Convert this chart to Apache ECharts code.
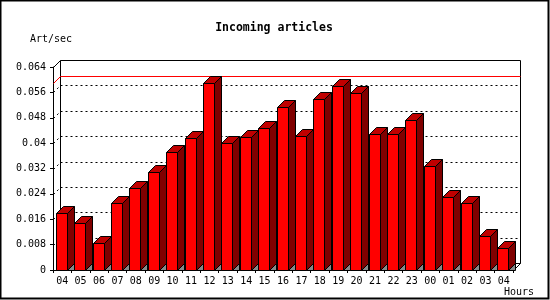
<!DOCTYPE html>
<html>
<head>
<meta charset="utf-8">
<script src="https://cdn.jsdelivr.net/npm/echarts@6/dist/echarts.min.js"></script>
<style>html,body{margin:0;padding:0;background:#fff}#c{width:550px;height:300px}</style>
</head>
<body>
<div id="c"></div>
<script>
var hours = ['04','05','06','07','08','09','10','11','12','13','14','15','16','17','18','19','20','21','22','23','00','01','02','03','04'];
var artPerSec = [0.0179,0.0147,0.0084,0.0210,0.0258,0.0310,0.0373,0.0415,0.0589,0.0399,0.0418,0.0447,0.0513,0.0421,0.0538,0.0579,0.0557,0.0428,0.0428,0.0472,0.0327,0.0229,0.0210,0.0108,0.0068];
var yTickValues = [0,0.008,0.016,0.024,0.032,0.04,0.048,0.056,0.064];
var titleText = 'Incoming articles';
var yUnit = 'Art/sec';
var xUnit = 'Hours';

var maxVal = Math.max.apply(null, artPerSec);
var D = 7;
var FONT = 'DejaVu Sans Mono';

var chart = echarts.init(document.getElementById('c'), null, {renderer:'canvas'});

var barData = artPerSec.map(function(v,i){return [i,v];});

chart.setOption({
  animation:false,
  backgroundColor:'#fff',
  grid:{left:53,right:37,top:67,bottom:30},
  xAxis:{
    type:'category', data:hours, boundaryGap:true,
    axisLine:{lineStyle:{color:'#000',width:1}},
    axisTick:{show:true,length:3,lineStyle:{color:'#000'}},
    axisLabel:{color:'#000',fontFamily:FONT,fontSize:10,margin:6,interval:0},
    splitLine:{show:false}
  },
  yAxis:{
    type:'value', min:0, max:0.064, interval:0.008,
    axisLine:{show:true,lineStyle:{color:'#000',width:1}},
    axisTick:{show:true,length:3,lineStyle:{color:'#000'}},
    axisLabel:{color:'#000',fontFamily:FONT,fontSize:10,margin:7,
      formatter:function(v){return String(parseFloat(v.toFixed(3)));}},
    splitLine:{show:false}
  },
  graphic:[
    {type:'rect',shape:{x:0.5,y:0.5,width:548,height:298},style:{fill:null,stroke:'#000',lineWidth:2},z:100},
    {type:'text',x:274,y:28,style:{text:titleText,font:'bold 11.5px "DejaVu Sans Mono"',fill:'#000',textAlign:'center',textVerticalAlign:'middle'}},
    {type:'text',x:30,y:39,style:{text:yUnit,font:'10px "DejaVu Sans Mono"',fill:'#000',textAlign:'left',textVerticalAlign:'middle'}},
    {type:'text',x:504,y:292,style:{text:xUnit,font:'10px "DejaVu Sans Mono"',fill:'#000',textAlign:'left',textVerticalAlign:'middle'}}
  ],
  series:[
    {
      type:'custom', z:1, silent:true,
      data:[[0,0]],
      renderItem:function(params, api){
        var cs = params.coordSys;
        var children = [];
        var bx = Math.round(cs.x)+D+0.5, by = Math.round(cs.y)-D+0.5;
        var bw = Math.round(cs.width), bh = Math.round(cs.height);
        children.push({type:'rect',shape:{x:bx,y:by,width:bw,height:bh},style:{fill:'#fff',stroke:'#000',lineWidth:1}});
        yTickValues.forEach(function(t){
          if (t <= 0 || t >= 0.064) return;
          var yf = Math.round(api.coord([0,t])[1]) + 0.5;
          children.push({type:'line',shape:{x1:bx,y1:yf-D,x2:bx+bw,y2:yf-D},style:{stroke:'#000',lineWidth:1,lineDash:[2,3]}});
          children.push({type:'line',shape:{x1:Math.round(cs.x)+0.5,y1:yf,x2:bx,y2:yf-D},style:{stroke:'#000',lineWidth:1,lineDash:[2,3]}});
        });
        var yr = Math.round(api.coord([0,maxVal])[1]) + 0.5;
        children.push({type:'line',shape:{x1:bx,y1:yr-D,x2:bx+bw,y2:yr-D},style:{stroke:'#f00',lineWidth:1}});
        children.push({type:'line',shape:{x1:Math.round(cs.x)+0.5,y1:yr,x2:bx,y2:yr-D},style:{stroke:'#f00',lineWidth:1}});
        var fx = Math.round(cs.x)+0.5, fy = Math.round(cs.y)+0.5;
        children.push({type:'line',shape:{x1:fx,y1:fy,x2:bx,y2:by},style:{stroke:'#000',lineWidth:1}});
        var rx = Math.round(cs.x+cs.width)+0.5, ry = Math.round(cs.y+cs.height)+0.5;
        children.push({type:'line',shape:{x1:rx,y1:ry,x2:rx+D,y2:ry-D},style:{stroke:'#000',lineWidth:1}});
        return {type:'group',children:children};
      }
    },
    {
      type:'custom', z:3, silent:true,
      data:barData,
      encode:{x:0,y:1},
      renderItem:function(params, api){
        var i = api.value(0), v = api.value(1);
        var top = api.coord([i,v]);
        var base = api.coord([i,0]);
        var band = api.size([1,0])[0];
        var w = Math.round(band*0.6);
        var x0 = Math.floor(top[0]-w/2-0.5)+0.5;
        var yt = Math.round(top[1])+0.5;
        var yb = Math.round(base[1])+0.5;
        var st = {stroke:'#000',lineWidth:1};
        return {type:'group',children:[
          {type:'polygon',shape:{points:[[x0+w,yb],[x0+w+D,yb-D],[x0+w+D,yb]]},style:{fill:'#888',stroke:'#000',lineWidth:1}},
          {type:'polygon',shape:{points:[[x0+w,yt],[x0+w+D,yt-D],[x0+w+D,yb-D],[x0+w,yb]]},style:{fill:'#800000',stroke:'#000',lineWidth:1}},
          {type:'polygon',shape:{points:[[x0,yt],[x0+D,yt-D],[x0+w+D,yt-D],[x0+w,yt]]},style:{fill:'#c00000',stroke:'#000',lineWidth:1}},
          {type:'rect',shape:{x:x0,y:yt,width:w,height:yb-yt},style:{fill:'#ff0000',stroke:'#000',lineWidth:1}}
        ]};
      }
    }
  ]
});
</script>
</body>
</html>
